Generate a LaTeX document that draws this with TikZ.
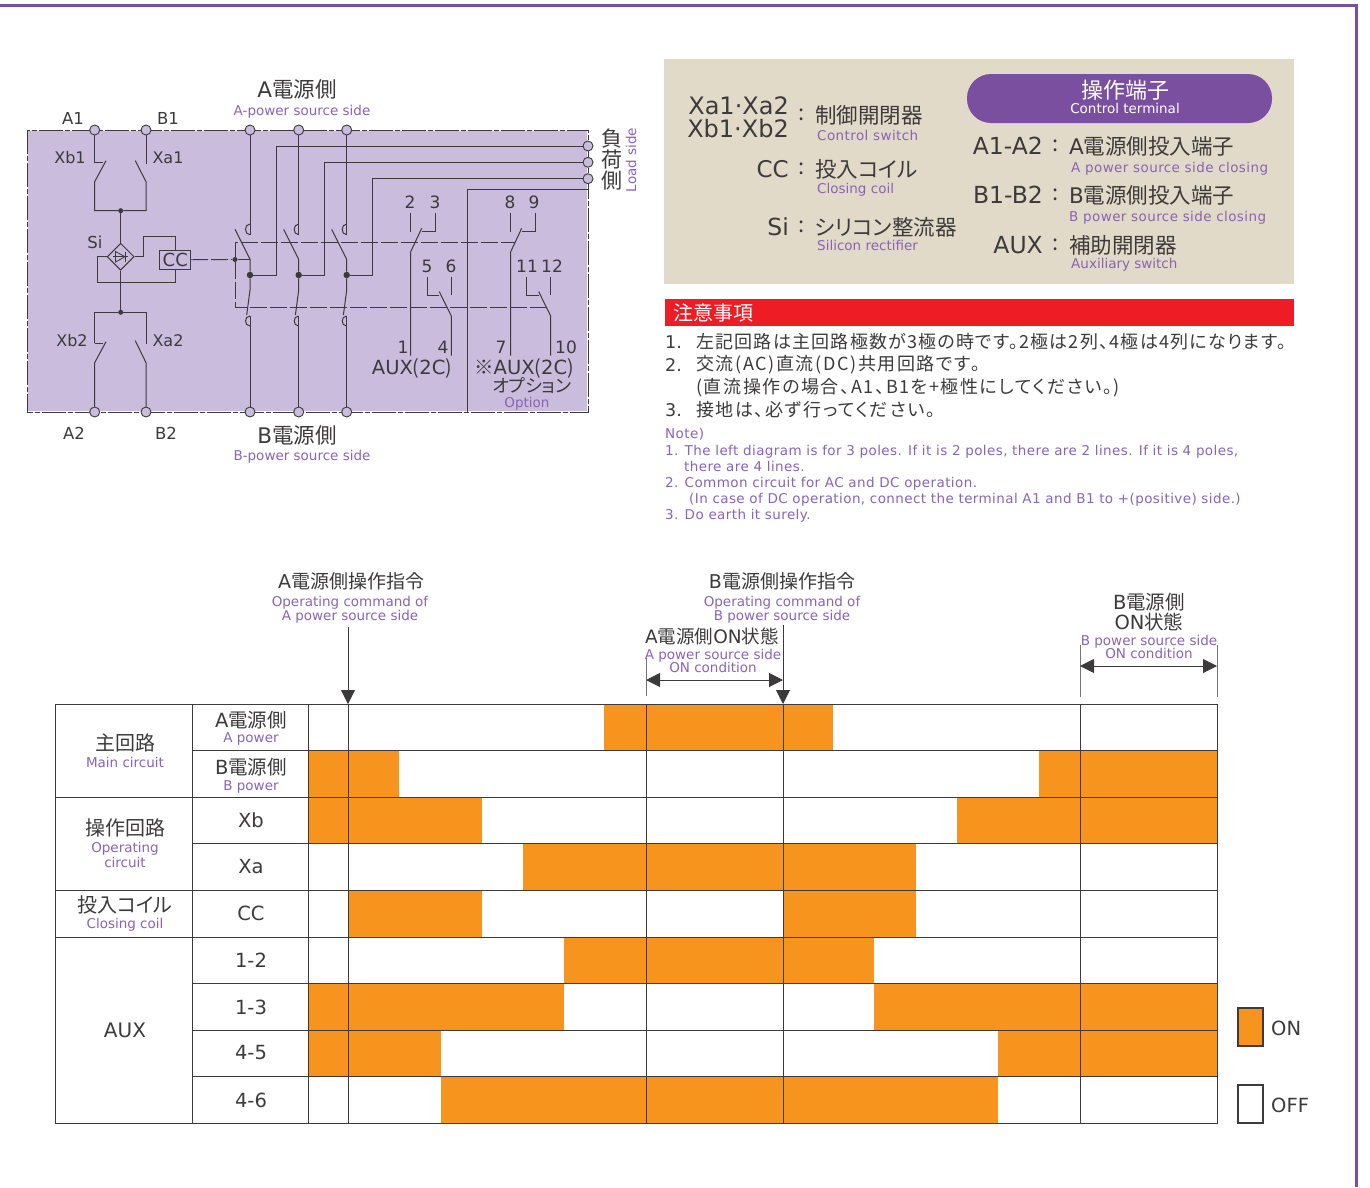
\documentclass[tikz,border=0pt]{standalone}
\usepackage{fontspec}
\usetikzlibrary{shapes.geometric,arrows.meta}
\newfontfamily\jp[RawFeature=+palt]{Noto Sans CJK JP}
\newfontfamily\jpnote[RawFeature=+palt,LetterSpace=6.8]{Noto Sans CJK JP}
\newfontfamily\jpwide[RawFeature=+palt,LetterSpace=9]{Noto Sans CJK JP}
\newfontfamily\lat{DejaVu Sans}
\newfontfamily\en{DejaVu Sans}
\newfontfamily\enwide[LetterSpace=3]{DejaVu Sans}
\newcommand{\la}[1]{{\lat #1}}
\definecolor{ink}{HTML}{3C3A3B}
\definecolor{purp}{HTML}{8A63B3}
\definecolor{frameviolet}{HTML}{7B4FA0}
\definecolor{panel}{HTML}{C9BCDC}
\definecolor{beige}{HTML}{E1DAC8}
\definecolor{alert}{HTML}{EE1C25}
\definecolor{onbar}{HTML}{F7941D}
\tikzset{
  jpt/.style={font=\jp\fontsize{#1}{#1}\selectfont, text=ink, inner sep=0pt, align=center},
  jnt/.style={font=\jpnote\fontsize{#1}{#1}\selectfont, text=ink, inner sep=0pt, align=left},
  jnw/.style={font=\jpwide\fontsize{#1}{#1}\selectfont, text=ink, inner sep=0pt, align=left},
  ltt/.style={font=\lat\fontsize{#1}{#1}\selectfont, text=ink, inner sep=0pt, align=center},
  ent/.style={font=\en\fontsize{#1}{#1}\selectfont, text=purp, inner sep=0pt, align=center},
  enw/.style={font=\enwide\fontsize{#1}{#1}\selectfont, text=purp, inner sep=0pt, align=left},
  term/.style={circle, draw=ink, fill=panel, line width=0.9pt, minimum size=10pt, inner sep=0pt},
  jdot/.style={circle, fill=ink, minimum size=#1, inner sep=0pt},
  wire/.style={draw=ink, line width=1pt},
  link/.style={draw=ink, line width=0.9pt, dash pattern=on 17pt off 3pt},
  grid/.style={draw=ink, line width=1pt},
  hinge/.style={draw=ink!70, line width=1pt},
  span/.style={draw=ink, line width=0.9pt, {Triangle[length=14pt,width=14pt]}-{Triangle[length=14pt,width=14pt]}},
  cmd/.style={draw=ink, line width=0.9pt, -{Triangle[length=14pt,width=14pt]}}
}
\begin{document}
\begin{tikzpicture}[x=1pt,y=-1pt]
	\useasboundingbox (0,0) rectangle (1370,1187);
	% outer frame
	\draw[frameviolet, line width=3pt] (0,5) -- (1356,5) -- (1356,1187);

	% circuit panel
	\fill[panel] (27,130) rectangle (588,412);
	\draw[white, line width=1.6pt] (27,130) rectangle (588,412);
	\draw[draw=ink, line width=1pt, dash pattern=on 24pt off 2pt on 5pt off 2pt] (27,130) rectangle (588,412);

	\node[term] (A1) at (94.7,130) {};
	\node[term] (B1) at (146,130) {};
	\node[term] (A2) at (94.7,412) {};
	\node[term] (B2) at (146,412) {};
	\node[term] (Ta) at (250,130) {};
	\node[term] (Tb) at (298.7,130) {};
	\node[term] (Tc) at (346.7,130) {};
	\node[term] (Ba) at (250,412) {};
	\node[term] (Bb) at (298.7,412) {};
	\node[term] (Bc) at (346.7,412) {};
	\node[term] (La) at (588,146) {};
	\node[term] (Lb) at (588,162.3) {};
	\node[term] (Lc) at (588,178.7) {};
	\node[jdot=5pt] (Jtop) at (120.7,210.7) {};
	\node[jdot=5pt] (Jbot) at (120.7,312.3) {};
	\node[jdot=5pt] (Jcc) at (235,259.5) {};

	% control switches
	\draw[wire] (A1) -- (94.7,162.7) -- (102.7,162.7);
	\draw[wire] (106,160.7) -- (94.7,181.7) -- (94.7,210.7) -- (Jtop);
	\draw[wire] (B1) -- (146,164);
	\draw[wire] (135.3,160.7) -- (146,181.7) -- (146,210.7) -- (Jtop);
	\draw[wire] (A2) -- (94.7,362.7) -- (106,341.7);
	\draw[wire] (94.7,343.3) -- (102.7,343.3);
	\draw[wire] (94.7,343.3) -- (94.7,312.3) -- (Jbot);
	\draw[wire] (B2) -- (146,362.7) -- (135.3,340.7);
	\draw[wire] (146,344) -- (146,312.3) -- (Jbot);

	% rectifier and coil
	\node[diamond, draw=ink, line width=1pt, minimum width=27pt, minimum height=27pt, inner sep=0pt] (Si) at (120.7,256.7) {};
	\node[rectangle, draw=ink, line width=1pt, minimum width=30.7pt, minimum height=18.7pt, inner sep=0pt, ltt=18] (CC) at (175.3,259.7) {CC};
	\draw[wire] (Jtop) -- (Si.north);
	\draw[wire] (Si.south) -- (Jbot);
	\draw[wire] (Si.west) -- (97.7,256.7) -- (97.7,282.3) -- (175.3,282.3) -- (CC.south);
	\draw[wire] (Si.east) -- (143.3,256.7) -- (143.3,236.7) -- (175.3,236.7) -- (CC.north);
	\draw[draw=ink, line width=0.8pt] (113,256.7) -- (128,256.7);
	\draw[draw=ink, line width=0.8pt] (115.5,251.5) -- (115.5,262) -- (125,256.7) -- cycle;
	\draw[draw=ink, line width=0.8pt] (125.5,251.5) -- (125.5,262);
	\draw[link] (CC.east) -- (Jcc);
	\draw[draw=ink, line width=0.9pt] (Jcc) -- (250,259.5);

	% main poles
	\foreach \n/\x/\r in {a/250/276, b/298.7/324, c/346.7/372.3}{
		\node[jdot=6.5pt] (J\n) at (\x,275) {};
		\draw[wire] (T\n) -- (\x,234.7);
		\draw[wire] (\x,224) .. controls (\x-6,224) and (\x-6,234.7) .. (\x,234.7);
		\draw[wire] (\x-15,229.3) -- (\x,259.3) -- (J\n) -- (\x,290) -- (\x-3.3,315);
		\draw[wire] (\x,316) .. controls (\x-6,316) and (\x-6,326) .. (\x,326);
		\draw[wire] (\x,316) -- (B\n);
		\draw[wire] (J\n) -- (\r,275) |- (L\n);
	}

	% linkage
	\draw[link] (Jcc) -- (235,242.7) -- (515,242.7);
	\draw[link] (Jcc) -- (235,307.3) -- (546.7,307.3);

	% auxiliary contacts
	\foreach \x in {410.7, 510.7}{
		\draw[wire] (\x,212.7) -- (\x,231.7);
		\draw[wire] (\x+24.3,212.7) -- (\x+24.3,231) -- (\x+11,231);
		\draw[wire] (\x+11,228.3) -- (\x,251.7) -- (\x,355.7);
	}
	\foreach \x in {427.3, 526.7}{
		\draw[wire] (\x,276.7) -- (\x,295) -- (\x+12,295);
		\draw[wire] (\x+24,276.7) -- (\x+24,295);
		\draw[wire] (\x+12,291.7) -- (\x+24,316) -- (\x+24,355.7);
	}
	\draw[wire] (588,189.3) -- (467.7,189.3) -- (467.7,412);

	% circuit labels
	\node[ltt=16.5] (lA1) at (73,118) {A1};
	\node[ltt=16.5] (lB1) at (168,118) {B1};
	\node[ltt=16] (lXb1) at (70,158) {Xb1};
	\node[ltt=16] (lXa1) at (168,158) {Xa1};
	\node[ltt=16.5] (lSi) at (95,242) {Si};
	\node[ltt=16] (lXb2) at (72,341) {Xb2};
	\node[ltt=16] (lXa2) at (168,341) {Xa2};
	\node[ltt=16.5] (lA2) at (74,433) {A2};
	\node[ltt=16.5] (lB2) at (166,433) {B2};
	\node[jpt=21.5] (lAside) at (297,89) {\la{A}電源側};
	\node[ent=13.5] (eAside) at (302,111.5) {A-power source side};
	\node[jpt=21.5] (lBside) at (297,435) {\la{B}電源側};
	\node[ent=13.5] (eBside) at (302,456.5) {B-power source side};
	\node[jpt=21] (lLoad) at (612,160) {負\\荷\\側};
	\node[ent=13.5, rotate=90] (eLoad) at (631,160) {Load side};
	\node[ltt=17] (l2) at (410,202) {2};
	\node[ltt=17] (l3) at (435,202) {3};
	\node[ltt=17] (l5) at (427,266) {5};
	\node[ltt=17] (l6) at (451,266) {6};
	\node[ltt=17] (l8) at (510,202) {8};
	\node[ltt=17] (l9) at (534,202) {9};
	\node[ltt=17] (l11) at (527,266) {11};
	\node[ltt=17] (l12) at (552,266) {12};
	\node[ltt=17] (l1) at (403,347) {1};
	\node[ltt=17] (l4) at (443,347) {4};
	\node[ltt=17] (l7) at (501,347) {7};
	\node[ltt=17] (l10) at (566,347) {10};
	\node[jpt=19.5] (lAux) at (412,368) {\la{AUX}(\la{2C})};
	\node[jpt=19.5] (lAuxOpt) at (524,368) {※\la{AUX}(\la{2C})};
	\node[jpt=18] (lOpt) at (532,386) {オプション};
	\node[ent=13.5] (eOpt) at (527,403.5) {Option};

	% key panel
	\fill[beige] (664,59) rectangle (1294,284);
	\node[rectangle, rounded corners=24pt, fill=frameviolet, minimum width=305pt, minimum height=49pt] (pill) at (1119.5,98.5) {};
	\node[jpt=22, text=white] (kTerm) at (1125,90) {操作端子};
	\node[ent=13.5, text=white] (eTerm) at (1125,108) {Control terminal};

	\node[ltt=24, anchor=east] (kXa) at (789,105.5) {Xa1·Xa2};
	\node[ltt=24, anchor=east] (kXb) at (789,128.5) {Xb1·Xb2};
	\node[jpt=22] (c1) at (802,115) {:};
	\node[jpt=21.5, anchor=west] (kCtrl) at (815,115) {制御開閉器};
	\node[enw=13.5, anchor=west] (eCtrl) at (817,135) {Control switch};
	\node[ltt=23, anchor=east] (kCC) at (789,169) {CC};
	\node[jpt=22] (c2) at (802,169) {:};
	\node[jpt=21.5, anchor=west] (kCoil) at (815,169) {投入コイル};
	\node[ent=13.5, anchor=west] (eCoil) at (817,189.5) {Closing coil};
	\node[ltt=23.5, anchor=east] (kSi) at (789,227) {Si};
	\node[jpt=22] (c3) at (802,227) {:};
	\node[jpt=21.5, anchor=west] (kRect) at (815,227) {シリコン整流器};
	\node[ent=13.5, anchor=west] (eRect) at (817,245) {Silicon rectifier};

	\node[ltt=23.5, anchor=east] (kA) at (1043,146) {A1-A2};
	\node[jpt=22] (c4) at (1056,146) {:};
	\node[jpt=21.5, anchor=west] (kAin) at (1069,146) {\la{A}電源側投入端子};
	\node[enw=13.5, anchor=west] (eAin) at (1071,168.5) {A power source side closing};
	\node[ltt=23.5, anchor=east] (kB) at (1043,195) {B1-B2};
	\node[jpt=22] (c5) at (1056,195) {:};
	\node[jpt=21.5, anchor=west] (kBin) at (1069,195) {\la{B}電源側投入端子};
	\node[enw=13.5, anchor=west] (eBin) at (1069,217.5) {B power source side closing};
	\node[ltt=23.5, anchor=east] (kAux) at (1043,245) {AUX};
	\node[jpt=22] (c6) at (1056,245) {:};
	\node[jpt=21.5, anchor=west] (kAuxsw) at (1069,245) {補助開閉器};
	\node[ent=13.5, anchor=west] (eAuxsw) at (1071,264.5) {Auxiliary switch};

	% notes
	\fill[alert] (665,299) rectangle (1294,326);
	\node[jpt=20, text=white, anchor=west] (nHead) at (673,313) {注意事項};
	\node[ltt=17.5, anchor=west] (n1n) at (665,342) {1.};
	\node[jnt=18, anchor=west] (n1) at (696,342) {左記回路は主回路極数が3極の時です。2極は2列、4極は4列になります。};
	\node[ltt=17.5, anchor=west] (n2n) at (665,365) {2.};
	\node[jnw=18, anchor=west] (n2) at (696,365) {交流(AC)直流(DC)共用回路です。};
	\node[jnw=18, anchor=west] (n2b) at (696,388) {(直流操作の場合、A1、B1を+極性にしてください。)};
	\node[ltt=17.5, anchor=west] (n3n) at (665,410) {3.};
	\node[jnw=18, anchor=west] (n3) at (696,410) {接地は、必ず行ってください。};
	\node[enw=13.5, anchor=west] (eN) at (665,434) {Note)};
	\node[enw=13.5, anchor=west] (eN1) at (665,451.5) {1. The left diagram is for 3 poles. If it is 2 poles, there are 2 lines. If it is 4 poles,};
	\node[enw=13.5, anchor=west] (eN1b) at (684,466) {there are 4 lines.};
	\node[enw=13.5, anchor=west] (eN2) at (665,483.5) {2. Common circuit for AC and DC operation.};
	\node[enw=13.5, anchor=west] (eN2b) at (689,499.5) {(In case of DC operation, connect the terminal A1 and B1 to +(positive) side.)};
	\node[enw=13.5, anchor=west] (eN3) at (665,515.5) {3. Do earth it surely.};

	% time chart bars
	\foreach \r/\xa/\xb in {1/604/833, 2/308/399, 2/1039/1217, 3/308/482, 3/957/1217, 4/523/916, 5/348/482, 5/783/916, 6/564/874, 7/308/564, 7/874/1217, 8/308/441, 8/998/1217, 9/441/998}
		\fill[onbar] (\xa,{704+46.6*(\r-1)}) rectangle (\xb,{704+46.6*\r});
	% time chart grid
	\draw[grid] (55,704) rectangle (1217,1123.4);
	\foreach \r in {1,...,8}
		\draw[grid] (192,{704+46.6*\r}) -- (1217,{704+46.6*\r});
	\foreach \r in {2,4,5}
		\draw[grid] (55,{704+46.6*\r}) -- (192,{704+46.6*\r});
	\foreach \x in {192,308,348,646,783,1080}
		\draw[grid] (\x,704) -- (\x,1123.4);

	\node[jpt=20] (gMain) at (125,743) {主回路};
	\node[ent=13.5] (eMain) at (125,762) {Main circuit};
	\node[jpt=20] (gOp) at (125,828) {操作回路};
	\node[ent=13.5] (eOp) at (125,855) {Operating\\[2pt]circuit};
	\node[jpt=20] (gCoil) at (125,905) {投入コイル};
	\node[ent=13.5] (eGcoil) at (125,924.5) {Closing coil};
	\node[ltt=20] (gAux) at (125,1030) {AUX};
	\node[jpt=19.5] (rA) at (251,720) {\la{A}電源側};
	\node[ent=13.5] (eA) at (251,738.5) {A power};
	\node[jpt=19.5] (rB) at (251,767) {\la{B}電源側};
	\node[ent=13.5] (eB) at (251,786.5) {B power};
	\node[ltt=19.5] (rXb) at (251,820) {Xb};
	\node[ltt=19.5] (rXa) at (251,867) {Xa};
	\node[ltt=19.5] (rCC) at (251,913) {CC};
	\node[ltt=19.5] (r12) at (251,960) {1-2};
	\node[ltt=19.5] (r13) at (251,1007) {1-3};
	\node[ltt=19.5] (r45) at (251,1053) {4-5};
	\node[ltt=19.5] (r46) at (251,1100) {4-6};

	% commands above the chart
	\node[jpt=19] (cmdA) at (351,581) {\la{A}電源側操作指令};
	\node[ent=13.5] (eCmdA) at (350,610) {Operating command of\\A power source side};
	\node[jpt=19] (cmdB) at (782,581) {\la{B}電源側操作指令};
	\node[ent=13.5] (eCmdB) at (782,610) {Operating command of\\B power source side};
	\node[jpt=18.5] (onA) at (712,636) {\la{A}電源側\la{ON}状態};
	\node[ent=13.5] (eOnA) at (713,661) {A power source side\\ON condition};
	\node[jpt=19.5] (onB) at (1149,612) {\la{B}電源側\\\la{ON}状態};
	\node[ent=13.5] (eOnB) at (1149,647) {B power source side\\ON condition};

	\coordinate (cmdAtop) at (348,627);
	\coordinate (cmdAend) at (348,704);
	\coordinate (cmdBtop) at (783,625);
	\coordinate (cmdBend) at (783,704);
	\draw[cmd] (cmdAtop) -- (cmdAend);
	\draw[cmd] (cmdBtop) -- (cmdBend);

	\coordinate (spA) at (646,680);
	\coordinate (spB) at (783,680);
	\coordinate (spC) at (1080,666);
	\coordinate (spD) at (1217,666);
	\draw[hinge] (646,658) -- (646,696);
	\draw[hinge] (1080,645) -- (1080,697);
	\draw[hinge] (1217,645) -- (1217,697);
	\draw[span] (spA) -- (spB);
	\draw[span] (spC) -- (spD);

	% legend
	\node[rectangle, draw=ink, line width=1.2pt, fill=onbar, minimum width=25pt, minimum height=38pt] (keyOn) at (1250.5,1027) {};
	\node[rectangle, draw=ink, line width=1.2pt, fill=white, minimum width=25pt, minimum height=38pt] (keyOff) at (1250.5,1104) {};
	\node[ltt=19.5, anchor=west] (tOn) at (1271,1028) {ON};
	\node[ltt=19.5, anchor=west] (tOff) at (1271,1105) {OFF};
\end{tikzpicture}
\end{document}
